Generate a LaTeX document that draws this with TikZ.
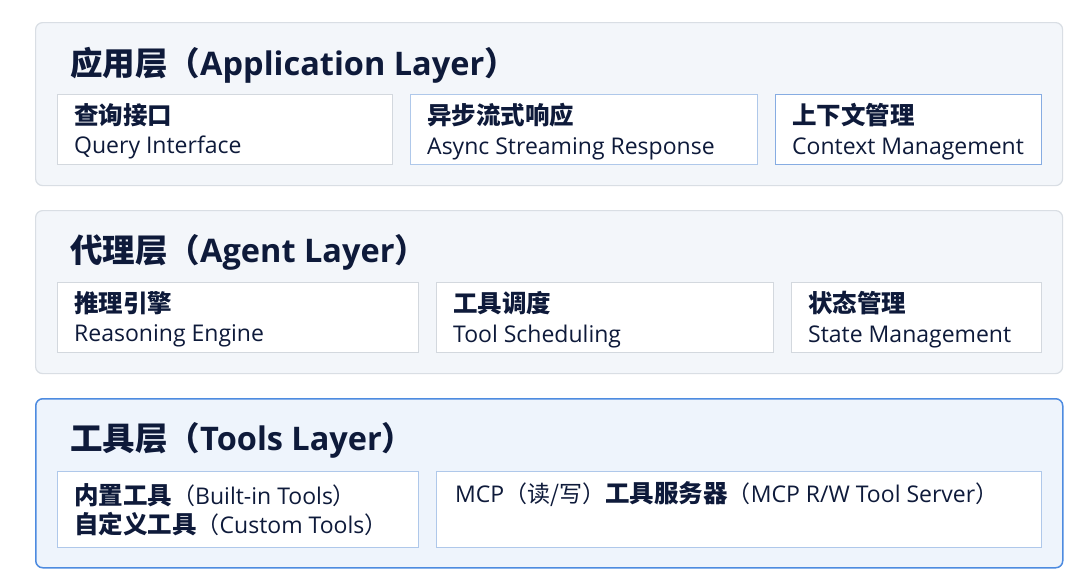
\documentclass[tikz,border=0pt]{standalone}
\usepackage{fontspec}
\setmainfont{Open Sans}
\newfontfamily\cjk{Noto Sans CJK SC}
\newcommand{\zh}[1]{{\cjk #1}}
\newcommand{\zhb}[1]{{\cjk\bfseries\fontsize{24.5}{29}\selectfont #1}}
\definecolor{inkblue}{HTML}{0E1A3A}
\definecolor{panelfill}{HTML}{F3F6FA}
\definecolor{panelline}{HTML}{D9DEE4}
\definecolor{toolfill}{HTML}{EEF4FC}
\definecolor{toolline}{HTML}{4D8BE0}
\definecolor{boxgray}{HTML}{D3D8DE}
\definecolor{boxlight}{HTML}{AFC8EA}
\definecolor{boxblue}{HTML}{86ACE2}
\begin{document}
\begin{tikzpicture}[x=1pt,y=-1pt]
\tikzstyle{layer}=[rectangle,rounded corners=7pt,draw=panelline,fill=panelfill,line width=1.2pt,anchor=north west]
\tikzstyle{part}=[rectangle,draw=boxgray,fill=white,line width=1pt,anchor=north west,inner sep=0pt]
\tikzset{
	title text/.style={anchor=base west,inner sep=0pt,text=inkblue,font=\bfseries\fontsize{32.5}{36}\selectfont},
	part text/.style={anchor=west,inner sep=0pt,text=inkblue,align=left,font=\fontsize{23}{29.5}\selectfont},
	tool layer/.style={layer,draw=toolline,fill=toolfill,line width=1.5pt}
}
\useasboundingbox[fill=white] (0,0) rectangle (1080,574);
% layers
\node[layer,minimum width=1027pt,minimum height=163pt] (app) at (35,22) {};
\node[layer,minimum width=1027pt,minimum height=163pt] (agent) at (35,210) {};
\node[tool layer,minimum width=1027pt,minimum height=169pt] (tools) at (35,398) {};
\node[title text] (appT) at (70,75) {\zh{应用层（}Application Layer\zh{）}};
\node[title text] (agentT) at (70,262) {\zh{代理层（}Agent Layer\zh{）}};
\node[title text] (toolsT) at (70,450) {\zh{工具层（}Tools Layer\zh{）}};
% application layer
\node[part,minimum width=335pt,minimum height=70pt] (query) at (57,94) {};
\node[part,draw=boxlight,minimum width=347pt,minimum height=70pt] (stream) at (410,94) {};
\node[part,draw=boxblue,minimum width=266pt,minimum height=70pt] (context) at (775,94) {};
\node[part text] at ([xshift=17pt,yshift=-2pt]query.west) {\zhb{查询接口}\\Query Interface};
\node[part text] at ([xshift=17pt,yshift=-2pt]stream.west) {\zhb{异步流式响应}\\Async Streaming Response};
\node[part text] at ([xshift=17pt,yshift=-2pt]context.west) {\zhb{上下文管理}\\Context Management};
% agent layer
\node[part,minimum width=361pt,minimum height=70pt] (reason) at (57,282) {};
\node[part,minimum width=337pt,minimum height=70pt] (sched) at (436,282) {};
\node[part,minimum width=250pt,minimum height=70pt] (state) at (791,282) {};
\node[part text] at ([xshift=17pt,yshift=-2pt]reason.west) {\zhb{推理引擎}\\Reasoning Engine};
\node[part text] at ([xshift=17pt,yshift=-2pt]sched.west) {\zhb{工具调度}\\Tool Scheduling};
\node[part text] at ([xshift=17pt,yshift=-2pt]state.west) {\zhb{状态管理}\\State Management};
% tools layer
\node[part,draw=boxlight,minimum width=361pt,minimum height=76pt] (builtin) at (57,471) {};
\node[part,draw=boxlight,minimum width=605pt,minimum height=76pt] (mcp) at (436,471) {};
\node[part text] at ([xshift=17pt]builtin.west) {\zhb{内置工具}\zh{（}Built-in Tools\zh{）}\\\zhb{自定义工具}\zh{（}Custom Tools\zh{）}};
\node[part text] at ([xshift=19pt,yshift=15pt]mcp.west) {MCP\zh{（读/写）}\zhb{工具服务器}\zh{（}MCP R/W Tool Server\zh{）}};
\end{tikzpicture}
\end{document}
